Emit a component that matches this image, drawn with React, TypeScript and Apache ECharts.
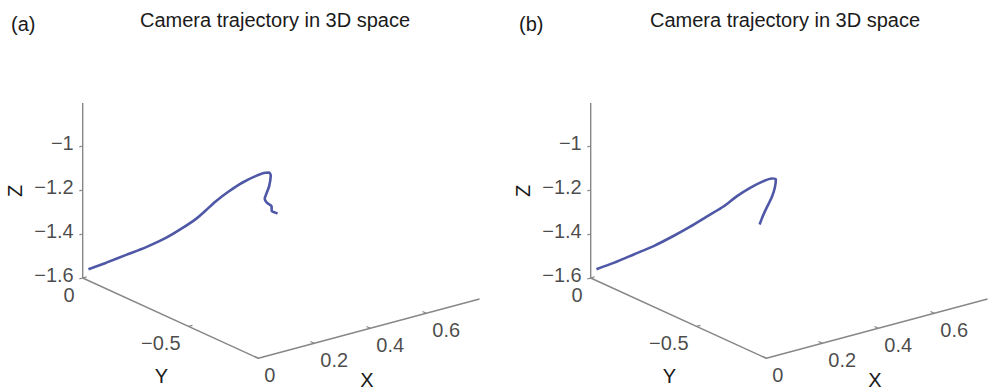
import React, { useEffect, useRef } from 'react';
import * as echarts from 'echarts';

// ---------- data ----------
const panelTags = ['(a)', '(b)'];
const panelTitles = ['Camera trajectory in 3D space', 'Camera trajectory in 3D space'];

const xRange = [0, 0.79];
const yRange = [-0.83, 0];
const zRange = [-1.6, -0.805];

const xTicks = [0, 0.2, 0.4, 0.6];
const yTicks = [0, -0.5];
const zTicks = [-1.6, -1.4, -1.2, -1];

const trajAX = [0.016, 0.067, 0.123, 0.179, 0.235, 0.282, 0.32, 0.348, 0.376, 0.413, 0.45, 0.488, 0.516, 0.527, 0.531, 0.527, 0.52, 0.514, 0.52, 0.533, 0.534, 0.544, 0.55];
const trajAY = [-0.006, -0.023, -0.043, -0.063, -0.082, -0.099, -0.112, -0.122, -0.132, -0.145, -0.158, -0.171, -0.181, -0.184, -0.186, -0.184, -0.182, -0.18, -0.182, -0.187, -0.187, -0.19, -0.193];
const trajAZ = [-1.563, -1.543, -1.518, -1.493, -1.462, -1.425, -1.391, -1.357, -1.321, -1.283, -1.251, -1.228, -1.218, -1.22, -1.233, -1.281, -1.309, -1.336, -1.355, -1.373, -1.396, -1.405, -1.41];

const trajBX = [0.016, 0.067, 0.123, 0.179, 0.235, 0.282, 0.329, 0.376, 0.413, 0.45, 0.488, 0.511, 0.523, 0.52, 0.511, 0.497, 0.486, 0.477];
const trajBY = [-0.006, -0.023, -0.043, -0.063, -0.082, -0.099, -0.115, -0.132, -0.145, -0.158, -0.171, -0.179, -0.183, -0.182, -0.179, -0.174, -0.17, -0.167];
const trajBZ = [-1.563, -1.543, -1.515, -1.487, -1.452, -1.418, -1.381, -1.344, -1.305, -1.274, -1.251, -1.243, -1.249, -1.287, -1.33, -1.373, -1.41, -1.446];

// ---------- layout (projection of the 3D box onto each panel) ----------
const W = 999;
const H = 391;
const PANEL_LEFT = [0, 508];
const PANEL_WIDTH = [500, 491];
const ORIGIN = [82.7, 278]; // (xMin, yMax, zMin)
const EX = [280, -75]; // per unit of X
const EYN = [211.6, 96.7]; // per unit of decreasing Y
const EZ = [0, -220]; // per unit of Z
const FONT = '"Liberation Sans", Arial, Helvetica, sans-serif';
const TEXT = '#1a1a1a';
const AXIS = '#878787';
const TRAJ = '#4e58a6';

function proj(X: number, Y: number, Z: number): [number, number] {
  const dx = X - xRange[0];
  const dy = yRange[1] - Y;
  const dz = Z - zRange[0];
  return [
    ORIGIN[0] + dx * EX[0] + dy * EYN[0] + dz * EZ[0],
    ORIGIN[1] + dx * EX[1] + dy * EYN[1] + dz * EZ[1],
  ];
}

function fmt(v: number): string {
  return (v < 0 ? '\u2212' : '') + String(Math.abs(v));
}

function buildPanel(p: number, xs: number[], ys: number[], zs: number[]) {
  const axisIdx = { xAxisIndex: p, yAxisIndex: p };
  const frame = [
    proj(xRange[0], yRange[1], zRange[1]),
    proj(xRange[0], yRange[1], zRange[0]),
    proj(xRange[0], yRange[0], zRange[0]),
    proj(xRange[1], yRange[0], zRange[0]),
  ];
  const tickLines: any[] = [];
  zTicks.forEach((z) => tickLines.push({ coords: [proj(0, 0, z), proj(-0.012, 0, z)] }));
  yTicks.forEach((y) => tickLines.push({ coords: [proj(0, y, zRange[0]), proj(0.014, y, zRange[0])] }));
  xTicks.forEach((x) => tickLines.push({ coords: [proj(x, yRange[0], zRange[0]), proj(x, yRange[0] + 0.018, zRange[0])] }));

  const labelBase = { show: true, formatter: '{b}', fontSize: 20, lineHeight: 17, fontFamily: FONT, color: TEXT };
  const series: any[] = [
    {
      type: 'line',
      ...axisIdx,
      data: frame,
      showSymbol: false,
      lineStyle: { color: AXIS, width: 1.4 },
      silent: true,
    },
    {
      type: 'lines',
      coordinateSystem: 'cartesian2d',
      ...axisIdx,
      data: tickLines,
      lineStyle: { color: AXIS, width: 1.2, opacity: 1 },
      silent: true,
    },
    {
      type: 'scatter',
      ...axisIdx,
      symbolSize: 0,
      data: zTicks.map((z) => ({ name: fmt(z), value: proj(0, 0, z) })),
      label: { ...labelBase, position: 'inside', align: 'right', verticalAlign: 'middle', offset: [-9, -3] },
      silent: true,
    },
    {
      type: 'scatter',
      ...axisIdx,
      symbolSize: 0,
      data: yTicks.map((y) => ({ name: fmt(y), value: proj(0, y, zRange[0]) })),
      label: { ...labelBase, position: 'inside', align: 'right', verticalAlign: 'middle', offset: [-8, 17] },
      silent: true,
    },
    {
      type: 'scatter',
      ...axisIdx,
      symbolSize: 0,
      data: xTicks.map((x) => ({ name: fmt(x), value: proj(x, yRange[0], zRange[0]) })),
      label: { ...labelBase, position: 'inside', align: 'left', verticalAlign: 'middle', offset: [6, 17] },
      silent: true,
    },
    {
      type: 'line',
      ...axisIdx,
      data: xs.map((x, i) => proj(x, ys[i], zs[i])),
      showSymbol: false,
      smooth: 0.25,
      lineStyle: { color: TRAJ, width: 2.6 },
      silent: true,
    },
  ];

  const L = PANEL_LEFT[p];
  const yName = proj(xRange[0], (yRange[0] + yRange[1]) / 2, zRange[0]);
  const xName = proj((xRange[0] + xRange[1]) / 2, yRange[0], zRange[0]);
  const zName = proj(xRange[0], yRange[1], -1.2);
  const graphics: any[] = [
    {
      type: 'text',
      x: L + 11,
      y: 24,
      style: { text: panelTags[p], font: `20px ${FONT}`, fill: TEXT, align: 'left', verticalAlign: 'middle' },
    },
    {
      type: 'text',
      x: L + (p === 0 ? 275 : 277),
      y: 20,
      style: { text: panelTitles[p], font: `20px ${FONT}`, fill: TEXT, align: 'center', verticalAlign: 'middle' },
    },
    {
      type: 'text',
      x: L + zName[0] - 68,
      y: zName[1] + 1,
      rotation: Math.PI / 2,
      style: { text: 'Z', font: `20px ${FONT}`, fill: TEXT, align: 'center', verticalAlign: 'middle' },
    },
    {
      type: 'text',
      x: L + yName[0] - 9,
      y: yName[1] + 58,
      style: { text: 'Y', font: `20px ${FONT}`, fill: TEXT, align: 'center', verticalAlign: 'middle' },
    },
    {
      type: 'text',
      x: L + xName[0] - 2,
      y: xName[1] + 51,
      style: { text: 'X', font: `20px ${FONT}`, fill: TEXT, align: 'center', verticalAlign: 'middle' },
    },
  ];
  return { series, graphics };
}

export default function App() {
  const ref = useRef<HTMLDivElement>(null);
  useEffect(() => {
    document.body.style.margin = '0';
    if (!ref.current) return;
    const chart = echarts.init(ref.current, undefined, { renderer: 'svg' });
    const a = buildPanel(0, trajAX, trajAY, trajAZ);
    const b = buildPanel(1, trajBX, trajBY, trajBZ);
    const option: any = {
      animation: false,
      backgroundColor: '#ffffff',
      grid: [0, 1].map((p) => ({
        left: PANEL_LEFT[p],
        top: 0,
        width: PANEL_WIDTH[p],
        height: H,
        containLabel: false,
        outerBoundsMode: 'none',
      })),
      xAxis: [0, 1].map((p) => ({ gridIndex: p, type: 'value', min: 0, max: PANEL_WIDTH[p], show: false })),
      yAxis: [0, 1].map((p) => ({ gridIndex: p, type: 'value', min: 0, max: H, inverse: true, show: false })),
      series: [...a.series, ...b.series],
      graphic: [...a.graphics, ...b.graphics],
    };
    chart.setOption(option);
    return () => chart.dispose();
  }, []);
  return <div ref={ref} style={{ position: 'absolute', left: 0, top: 0, width: W, height: H }} />;
}
